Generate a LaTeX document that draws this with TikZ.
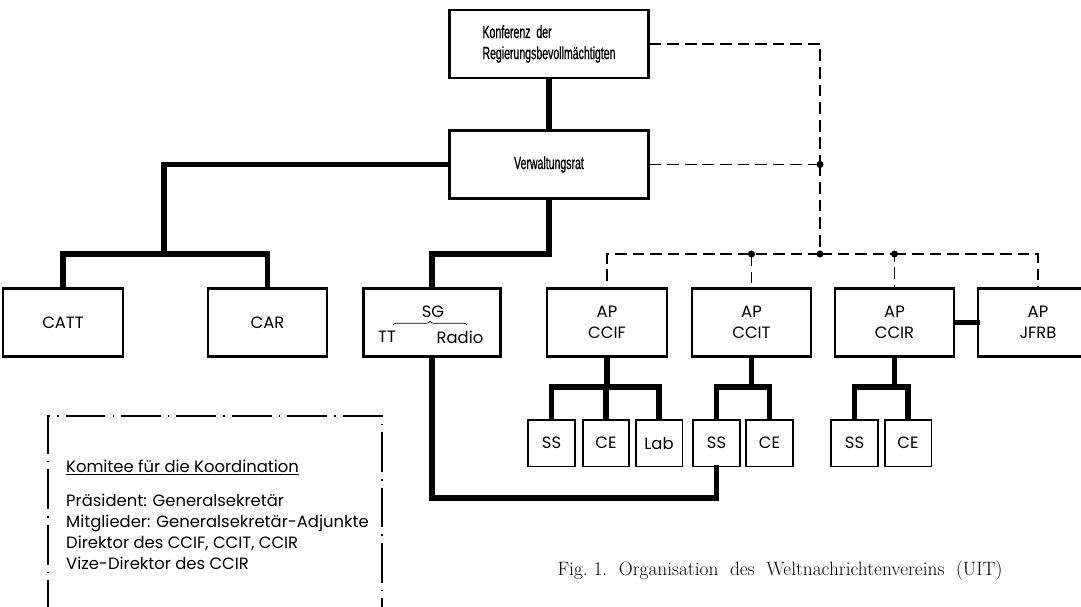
\documentclass[tikz,border=0pt]{standalone}
\usepackage{fontspec}
\usepackage{tikz}
\usetikzlibrary{positioning, decorations.pathreplacing}
\newfontfamily\geofont{Poppins}
\newfontfamily\condfont[FakeStretch=0.6, FakeBold=0.8]{Liberation Sans}

\begin{document}
\begin{tikzpicture}[x=0.03cm, y=-0.03cm]
    % Styles
    \tikzstyle{box} = [rectangle, draw, line width=2pt, inner sep=0pt,
        minimum width=102, minimum height=58, align=center,
        font=\geofont\fontsize{14}{18}\selectfont]
    \tikzstyle{topbox} = [box, minimum width=170, minimum height=58,
        font=\condfont\fontsize{15}{18}\selectfont]
    \tikzstyle{small} = [box, line width=1.6pt, minimum width=40, minimum height=40]
    \tikzstyle{line} = [line width=4.3pt, line cap=rect]
    \tikzstyle{link} = [line width=1.3pt, dash pattern=on 10pt off 5pt]
    \tikzstyle{frame} = [line width=1.3pt, dash pattern=on 34pt off 6pt on 1.3pt off 6pt]
    \tikzstyle{dot} = [circle, fill, inner sep=0pt, minimum size=6]
    \tikzstyle{sglabel} = [font=\geofont\fontsize{14}{18}\selectfont, inner sep=0pt]

    \useasboundingbox (0,0) rectangle (1081,606);
    \clip (0,0) rectangle (1081,606);

    % Nodes
    \node [topbox, align=left] (konf) at (549,44) {Konferenz\ \ der\\Regierungsbevollmächtigten};
    \node [topbox] (vrat) at (549,164.5) {Verwaltungsrat};
    \node [box] (catt) at (63,322.5) {CATT};
    \node [box] (car) at (267.5,322.5) {CAR};
    \node [box, minimum width=117] (sg) at (432,322.5) {};
    \node [box] (ccif) at (607,322.5) {AP\\CCIF};
    \node [box] (ccit) at (751.5,322.5) {AP\\CCIT};
    \node [box] (ccir) at (894.5,322.5) {AP\\CCIR};
    \node [box] (jfrb) at (1038,322.5) {AP\\JFRB};
    \node [small] (ss1) at (551.5,443) {SS};
    \node [small] (ce1) at (606,443) {CE};
    \node [small] (lab) at (659,443) {Lab};
    \node [small] (ss2) at (716.5,443) {SS};
    \node [small] (ce2) at (769.5,443) {CE};
    \node [small] (ss3) at (854.5,443) {SS};
    \node [small] (ce3) at (908,443) {CE};

    % SG box content
    \node [sglabel] (sgname) at (433,312) {SG};
    \node [sglabel] (tt) at (387,337) {TT};
    \node [sglabel] (radio) at (460,337) {Radio};
    \draw [line width=0.6pt, decorate, decoration={brace, amplitude=3pt}] (393,325) -- (467,325);

    % Junctions
    \coordinate (leftbus) at (164,254);
    \coordinate (sgbus) at (549,254);
    \coordinate (sgloop) at (432,498);
    \coordinate (ccifbus) at (607,387);
    \coordinate (ccitbus) at (751.5,387);
    \coordinate (ccirbus) at (894.5,387);
    \node [dot] (dv) at (820,164.5) {};
    \node [dot] (dl) at (751.5,254) {};
    \node [dot] (dm) at (820,254) {};
    \node [dot] (dr) at (894.5,254) {};

    % Lines
    \draw [line] (konf) -- (vrat);
    \draw [line] (vrat.west) -| (leftbus);
    \draw [line] (catt.north) |- (leftbus) -| (car.north);
    \draw [line] (vrat.south) -- (sgbus) -| (sg.north);
    \draw [line] (sg.south) -- (sgloop) -| (ss2.south);
    \draw [line] (ccif.south) -- (ccifbus);
    \draw [line] (ss1.north) |- (ccifbus) -| (lab.north);
    \draw [line] (ce1.north) -- (ce1.north |- ccifbus);
    \draw [line] (ccit.south) -- (ccitbus);
    \draw [line] (ss2.north) |- (ccitbus) -| (ce2.north);
    \draw [line] (ccir.south) -- (ccirbus);
    \draw [line] (ss3.north) |- (ccirbus) -| (ce3.north);
    \draw [line] (ccir.east) -- (jfrb.west);

    % Dashed links
    \draw [link] (konf.east) -| (dv.center);
    \draw [link] (vrat.east) -- (dv.center);
    \draw [link] (dv.center) -- (dm.center);
    \draw [link] (dm.center) -- (dl.center) -| (ccif.north);
    \draw [link] (dl.center) -- (ccit.north);
    \draw [link] (dm.center) -- (dr.center) -- (ccir.north);
    \draw [link] (dr.center) -| (jfrb.north);

    % Komitee
    \draw [frame] (48,620) -- (48,416) -- (382,416) -- (382,620);
    \node [font=\geofont\fontsize{14}{18}\selectfont, anchor=base west, inner sep=0pt] (ktitle) at (66,472) {\underline{Komitee für die Koordination}};
    \node [font=\geofont\fontsize{14}{17.8}\selectfont, anchor=north west, align=left, inner sep=0pt] (kbody) at (66,494)
        {Präsident: Generalsekretär\\Mitglieder: Generalsekretär-Adjunkte\\Direktor des CCIF, CCIT, CCIR\\Vize-Direktor des CCIR};

    % Caption
    \node [font=\fontsize{16.5}{20}\selectfont, anchor=base] (caption) at (780,575)
        {Fig.~1.\ \ Organisation\ \ des\ \ Weltnachrichtenvereins\ \ (UIT)};
\end{tikzpicture}
\end{document}
